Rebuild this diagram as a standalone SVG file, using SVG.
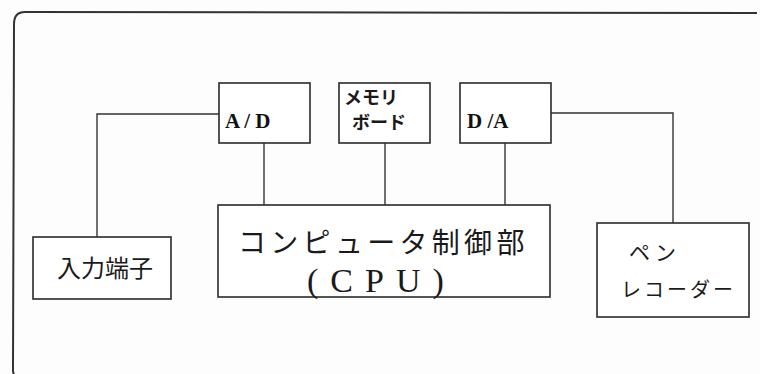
<svg xmlns="http://www.w3.org/2000/svg" width="760" height="374" viewBox="0 0 760 374">
<style>
.box{fill:#fff;stroke:#2a2a2a;stroke-width:1.6}
.ln{fill:none;stroke:#333;stroke-width:1.4}
.frame{fill:none;stroke:#333;stroke-width:2}
.jp{font-family:"Noto Sans CJK JP","Noto Sans CJK SC",sans-serif;fill:#1a1a1a}
.lat{font-family:"Liberation Serif","DejaVu Serif",serif;font-weight:bold;fill:#111}
.cpu{font-family:"Liberation Serif","Noto Sans CJK JP",serif;fill:#1a1a1a}
</style>
<rect width="760" height="374" fill="#fdfdfd"/>
<path class="frame" d="M757,13 L25,12 Q14,12 14,24 L13,370 Q13,374 15,376"/>
<g id="connectors">
<path class="ln" d="M219,114 H97 V237"/>
<path class="ln" d="M264,143 V205"/>
<path class="ln" d="M385,143 V205"/>
<path class="ln" d="M505,143 V205"/>
<path class="ln" d="M551,113 H673 V223"/>
</g>
<g id="ad">
<rect class="box" x="219" y="83" width="91" height="60"/>
<text class="lat" x="225" y="128" font-size="21">A / D</text>
</g>
<g id="memory">
<rect class="box" x="339" y="83" width="91" height="60"/>
<text class="jp" x="344" y="104" font-size="18" font-weight="bold">メモリ</text>
<text class="jp" x="352" y="129" font-size="18" font-weight="bold">ボード</text>
</g>
<g id="da">
<rect class="box" x="460" y="83" width="91" height="60"/>
<text class="lat" x="467" y="128" font-size="21">D /A</text>
</g>
<g id="input">
<rect class="box" x="33" y="237" width="138" height="62"/>
<text class="jp" x="57" y="277" font-size="24">入力端子</text>
</g>
<g id="cpu">
<rect class="box" x="218" y="205" width="332" height="92"/>
<text class="jp" x="238" y="253" font-size="28" letter-spacing="4.3">コンピュータ制御部</text>
<text class="cpu" x="307" y="292" font-size="34" letter-spacing="12">(CPU)</text>
</g>
<g id="recorder">
<rect class="box" x="597" y="223" width="152" height="94"/>
<text class="jp" x="629" y="260" font-size="21" letter-spacing="5">ペン</text>
<text class="jp" x="621" y="297" font-size="20" letter-spacing="3">レコーダー</text>
</g>
</svg>
